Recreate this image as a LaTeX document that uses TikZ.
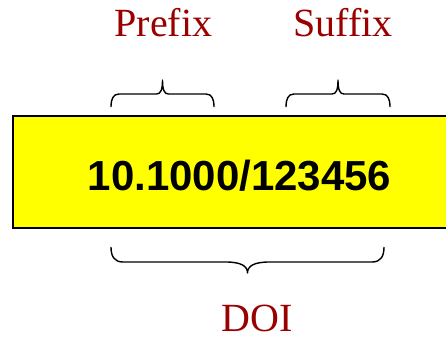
\documentclass[tikz,border=0pt]{standalone}
\usepackage{fontspec}
\setmainfont{Liberation Serif}
\newfontfamily\numfont{Liberation Sans}
\usetikzlibrary{calc}
\definecolor{doired}{RGB}{153,0,0}
\definecolor{doiyellow}{RGB}{255,255,0}

% brace between two points: start, end, side (1 up, -1 down), flat offset, tip height, tip half width, end width
\newcommand\bracebetween[7]{%
\draw[partline] let \p1=(#1), \p2=(#2), \n1={(\x1+\x2)/2} in
  (\p1) .. controls (\x1,\y1+#3*#4*0.6) and (\x1+#7*0.25,\y1+#3*#4) .. (\x1+#7,\y1+#3*#4)
  -- (\n1-#6,\y1+#3*#4) .. controls (\n1-#6*0.3,\y1+#3*#4) and (\n1,\y1+#3*#4+#3*#5*0.15) .. (\n1,\y1+#3*#5)
  .. controls (\n1,\y1+#3*#4+#3*#5*0.15) and (\n1+#6*0.3,\y1+#3*#4) .. (\n1+#6,\y1+#3*#4)
  -- (\x2-#7,\y1+#3*#4) .. controls (\x2-#7*0.25,\y1+#3*#4) and (\x2,\y1+#3*#4*0.6) .. (\p2);}

\begin{document}
\begin{tikzpicture}[x=1pt,y=1pt,partlbl/.style={text=doired,font=\fontsize{40}{40}\selectfont,anchor=base,inner sep=0pt},partline/.style={line width=1.4pt,line join=round},doibox/.style={draw=black,line width=1.4pt,fill=doiyellow}]
\def\ybr{231};
\def\ybot{91};
\useasboundingbox (0,0) rectangle (446,338);

\draw[doibox] (13,110) rectangle (470,222);
\node[anchor=base,inner sep=0pt,font=\numfont\bfseries\fontsize{42}{42}\selectfont] (num) at (239.5,148) {10.1000/123456};

\coordinate (preL) at (111,\ybr);
\coordinate (preR) at (214,\ybr);
\coordinate (sufL) at (286,\ybr);
\coordinate (sufR) at (390,\ybr);
\coordinate (doiL) at (111,\ybot);
\coordinate (doiR) at (384,\ybot);

\bracebetween{preL}{preR}{1}{13}{27}{6}{8}
\bracebetween{sufL}{sufR}{1}{13}{27}{6}{8}
\bracebetween{doiL}{doiR}{-1}{15}{26}{22}{12}

\node[partlbl] (prefix) at (163.5,301) {Prefix};
\node[partlbl] (suffix) at (343,301) {Suffix};
\node[partlbl] (doi) at (257.5,7) {DOI};
\end{tikzpicture}
\end{document}
